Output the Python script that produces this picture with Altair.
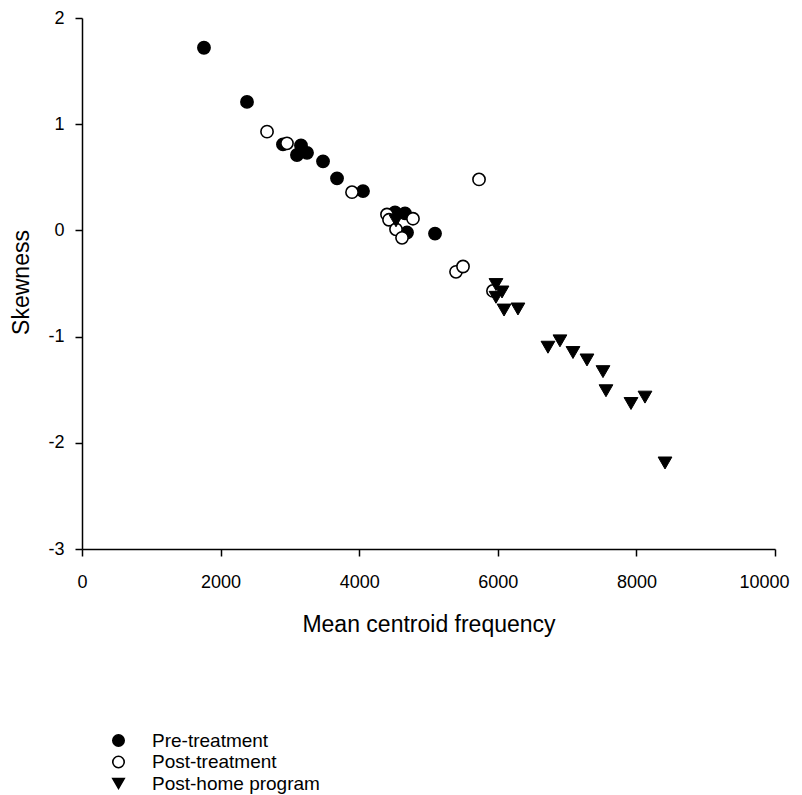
import altair as alt
import pandas as pd

groups = ["Pre-treatment", "Post-treatment", "Post-home program"]

pre_x = [1760, 2381, 2900, 3160, 3102, 3247, 3478, 3680, 4055, 4517, 4661, 4690, 5094]
pre_y = [1.72, 1.21, 0.81, 0.80, 0.71, 0.73, 0.65, 0.49, 0.37, 0.17, 0.16, -0.02, -0.03]

post_x = [2670, 2958, 3896, 5729, 4401, 4430, 4776, 4531, 4618, 5397, 5498, 5930]
post_y = [0.93, 0.82, 0.36, 0.48, 0.15, 0.10, 0.11, 0.01, -0.07, -0.39, -0.34, -0.57]

home_x = [4531, 5974, 6061, 5974, 6090, 6291, 6724, 6897, 7085, 7287, 7518, 7561, 7922, 8124, 8413]
home_y = [0.09, -0.51, -0.58, -0.63, -0.75, -0.74, -1.10, -1.04, -1.15, -1.22, -1.33, -1.51, -1.63, -1.57, -2.19]

x_ticks = [0, 2000, 4000, 6000, 8000, 10000]
y_ticks = [-3, -2, -1, 0, 1, 2]

rows = []
for g, xs, ys in [(groups[0], pre_x, pre_y), (groups[1], post_x, post_y), (groups[2], home_x, home_y)]:
    for a, b in zip(xs, ys):
        rows.append({"x": a, "y": b, "group": g})
df = pd.DataFrame(rows)

FONT = "Liberation Sans"

x_enc = alt.X("x:Q",
              scale=alt.Scale(domain=[0, 10000], nice=False, zero=False),
              axis=alt.Axis(values=x_ticks, title="Mean centroid frequency",
                            titleBaseline="alphabetic", titleY=82,
                            labelPadding=17, labelFlush=False,
                            labelOffset={"condition": {"test": "datum.value === 10000", "value": -11},
                                         "value": 0},
                            labelExpr="'' + datum.value"))
y_enc = alt.Y("y:Q",
              scale=alt.Scale(domain=[-3, 2], nice=False, zero=False),
              axis=alt.Axis(values=y_ticks, title="Skewness",
                            titleBaseline="alphabetic", titleX=-54, titleY=264,
                            labelPadding=11, labelFlush=False,
                            labelExpr="'' + datum.value"))
shape_enc = alt.Shape("group:N",
                      scale=alt.Scale(domain=groups, range=["circle", "circle", "triangle-down"]),
                      legend=alt.Legend(title=None))
fill_enc = alt.Fill("group:N",
                    scale=alt.Scale(domain=groups, range=["black", "white", "black"]),
                    legend=alt.Legend(title=None))
stroke_enc = alt.Stroke("group:N",
                        scale=alt.Scale(domain=groups, range=["black", "black", "black"]),
                        legend=alt.Legend(title=None))

base = alt.Chart(df).encode(x=x_enc, y=y_enc, shape=shape_enc, fill=fill_enc, stroke=stroke_enc)

circles = base.transform_filter(
    alt.FieldOneOfPredicate(field="group", oneOf=groups[:2])
).mark_point(filled=True, opacity=1, strokeWidth=1.6, size=150)

triangles = base.transform_filter(
    alt.FieldEqualPredicate(field="group", equal=groups[2])
).mark_point(filled=True, opacity=1, strokeWidth=1, size=190)

chart = alt.layer(circles, triangles).properties(
    width=693, height=531,
    autosize=alt.AutoSizeParams(type="none"),
    padding={"left": 74, "top": 10, "right": 19, "bottom": 246},
).configure_view(
    stroke=None
).configure_axis(
    grid=False, domainColor="black", tickColor="black", domainWidth=1.5, tickWidth=1.5,
    tickSize=7, labelFont=FONT, labelFontSize=18, labelColor="black",
    titleFont=FONT, titleFontSize=23, titleFontWeight="normal", titleColor="black",
).configure_legend(
    orient="none", legendX=27, legendY=713, symbolSize=130, labelOffset=24,
    rowPadding=1.5, padding=0, symbolStrokeWidth=1.6, labelLimit=400,
    labelFontSize=19, labelFont=FONT, labelColor="black",
)

chart.save("out.html", embed_options={"renderer": "svg", "actions": False})
